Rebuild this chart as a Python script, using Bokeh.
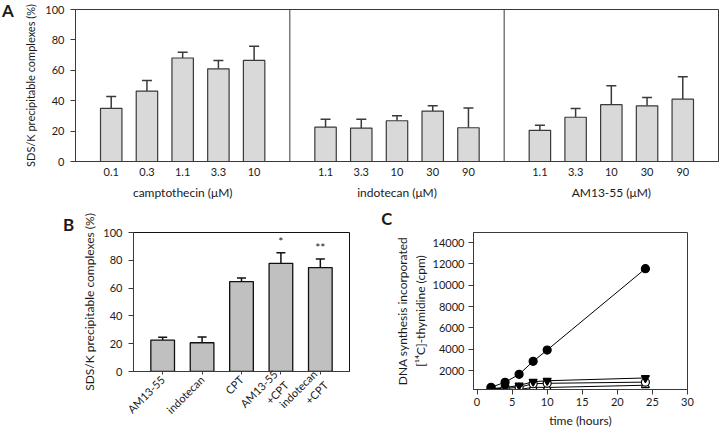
import math
from bokeh.plotting import figure
from bokeh.layouts import column, row
from bokeh.models import (ColumnDataSource, Whisker, TeeHead, FixedTicker,
                          LinearAxis, Span, Div, Range1d)
from bokeh.core.properties import value
from bokeh.embed import file_html
from bokeh.resources import INLINE

# ---------------- data ----------------
# Panel A
a_groups = ["camptothecin (μM)", "indotecan (μM)", "AM13-55 (μM)"]
a_conc = [["0.1", "0.3", "1.1", "3.3", "10"],
          ["1.1", "3.3", "10", "30", "90"],
          ["1.1", "3.3", "10", "30", "90"]]
a_mean = [[35.0, 46.3, 68.1, 61.0, 66.5],
          [22.6, 22.0, 26.8, 33.2, 22.2],
          [20.5, 29.1, 37.4, 36.6, 41.0]]
a_sd = [[7.7, 7.0, 3.7, 5.5, 9.3],
        [5.2, 5.8, 3.3, 3.5, 13.0],
        [3.3, 5.7, 12.4, 5.5, 14.7]]
a_yticks = [0, 20, 40, 60, 80, 100]

# Panel B
b_labels = ["AM13-55", "indotecan", "CPT", "AM13-55\n+CPT", "indotecan\n+CPT"]
b_mean = [22.6, 20.7, 64.7, 77.8, 74.8]
b_sd = [2.0, 4.1, 2.6, 7.6, 6.1]
b_sig = ["", "", "", "*", "**"]
b_yticks = [0, 20, 40, 60, 80, 100]

# Panel C
c_time = [2, 4, 6, 8, 10, 24]
c_ctrl = [450, 915, 1660, 2880, 3935, 11550]
c_ctrl_sd = [60, 80, 90, 110, 100, 250]
c_s2 = [330, 420, 620, 970, 1060, 1320]
c_s3 = [300, 350, 450, 780, 820, 930]
c_s4 = [250, 280, 230, 450, 430, 640]
c_xticks = [0, 5, 10, 15, 20, 25, 30]
c_yticks = [2000, 4000, 6000, 8000, 10000, 12000, 14000]

FONT = "Lato"
DARK = "#3a3a3a"
TXT = "#1a1a1a"


def style_axis(ax, size="11px"):
    ax.major_label_text_font = FONT
    ax.major_label_text_font_size = size
    ax.major_label_text_color = TXT
    ax.axis_label_text_font = FONT
    ax.axis_label_text_font_style = "normal"
    ax.axis_label_text_font_size = "12px"
    ax.axis_label_text_color = TXT
    ax.axis_line_color = DARK
    ax.major_tick_line_color = DARK
    ax.minor_tick_line_color = None
    ax.major_tick_in = 0
    ax.major_tick_out = 5


def base_fig(**kw):
    p = figure(output_backend="svg", toolbar_location=None, **kw)
    p.xgrid.visible = False
    p.ygrid.visible = False
    p.outline_line_color = DARK
    p.outline_line_width = 1
    p.background_fill_color = "white"
    p.border_fill_color = "white"
    return p


def letter(text, width, height, left, top):
    html = ('<div style="position:relative; left:%dpx; top:%dpx; '
            'font-family:Lato; font-weight:bold; font-size:17px; line-height:1; '
            'color:%s;">%s</div>' % (left, top, TXT, text))
    return Div(text=html, width=width, height=height, margin=(0, 0, 0, 0))


# ---------------- Panel A ----------------
GROUP = len(a_conc[0]) + 1
pa = base_fig(width=706, height=206,
              x_range=Range1d(0, GROUP * len(a_groups)), y_range=Range1d(0, 100),
              min_border_left=61, min_border_right=2, min_border_top=9,
              min_border_bottom=45)

ax_, amean_, aup_, overrides = [], [], [], {}
for g, grp in enumerate(a_groups):
    for i, c in enumerate(a_conc[g]):
        xv = g * GROUP + 1 + i
        ax_.append(xv)
        amean_.append(a_mean[g][i])
        aup_.append(a_mean[g][i] + a_sd[g][i])
        overrides[xv] = c
srcA = ColumnDataSource(dict(x=ax_, top=amean_, upper=aup_))
pa.vbar(x="x", top="top", width=0.6, bottom=0, source=srcA,
        fill_color="#d9d9d9", line_color=DARK, line_width=1.2)
pa.add_layout(Whisker(source=srcA, base="x", lower="top", upper="upper",
                      line_color=DARK, line_width=1.5,
                      upper_head=TeeHead(size=10, line_color=DARK, line_width=1.5),
                      lower_head=None))
for g in range(1, len(a_groups)):
    pa.add_layout(Span(location=g * GROUP, dimension="height",
                       line_color=DARK, line_width=1))

style_axis(pa.yaxis[0])
pa.yaxis.ticker = FixedTicker(ticks=a_yticks)
pa.yaxis.axis_label = "SDS/K precipitable complexes (%)"
pa.yaxis.axis_label_text_font_size = "11px"
pa.yaxis.major_label_standoff = 6
pa.yaxis.axis_label_standoff = 5

xa = pa.xaxis[0]
style_axis(xa)
xa.ticker = FixedTicker(ticks=ax_)
xa.major_label_overrides = overrides
xa.major_tick_out = 0
xa.major_tick_line_color = None
xa.major_label_standoff = 6

grp_centers = [g * GROUP + GROUP / 2 for g in range(len(a_groups))]
xa2 = LinearAxis(ticker=FixedTicker(ticks=grp_centers),
                 major_label_overrides={c: n for c, n in zip(grp_centers, a_groups)})
style_axis(xa2, size="12px")
xa2.axis_line_color = None
xa2.major_tick_line_color = None
xa2.major_tick_out = 0
xa2.major_label_standoff = 6
pa.add_layout(xa2, "below")

# ---------------- Panel B ----------------
pb = base_fig(frame_width=219, frame_height=155,
              x_range=Range1d(-0.74, len(b_labels) - 0.26), y_range=Range1d(0, 100),
              min_border_left=58, min_border_right=28, min_border_top=24,
              min_border_bottom=10)
bx = list(range(len(b_labels)))
srcB = ColumnDataSource(dict(x=bx, top=b_mean,
                             upper=[m + s for m, s in zip(b_mean, b_sd)],
                             sig=b_sig,
                             sy=[m + s + 3 for m, s in zip(b_mean, b_sd)]))
pb.vbar(x="x", top="top", width=0.6, bottom=0, source=srcB,
        fill_color="#c0c0c0", line_color="#111111", line_width=1.3)
pb.add_layout(Whisker(source=srcB, base="x", lower="top", upper="upper",
                      line_color="#111111", line_width=1.5,
                      upper_head=TeeHead(size=9, line_color="#111111", line_width=1.5),
                      lower_head=None))
pb.text(x="x", y="sy", text="sig", source=srcB, text_align="center",
        text_baseline="bottom", text_font=value(FONT), text_font_size="12px",
        text_color=TXT)
style_axis(pb.yaxis[0])
pb.yaxis.ticker = FixedTicker(ticks=b_yticks)
pb.yaxis.axis_label = "SDS/K precipitable complexes (%)"
pb.yaxis.major_label_standoff = 6
pb.yaxis.axis_label_standoff = 3
style_axis(pb.xaxis[0], size="11px")
pb.xaxis.ticker = FixedTicker(ticks=bx)
pb.xaxis.major_label_overrides = {i: l for i, l in enumerate(b_labels)}
pb.xaxis.major_label_orientation = math.pi / 4
pb.xaxis.major_tick_out = 3
pb.xaxis.major_label_standoff = 3
pb.outline_line_color = "#111111"

# ---------------- Panel C ----------------
pc = base_fig(frame_width=218, frame_height=157,
              x_range=Range1d(-0.5, 30), y_range=Range1d(240, 14940),
              min_border_left=76, min_border_right=32, min_border_top=26,
              min_border_bottom=10)
srcC = ColumnDataSource(dict(t=c_time, ctrl=c_ctrl,
                             lo=[v - s for v, s in zip(c_ctrl, c_ctrl_sd)],
                             hi=[v + s for v, s in zip(c_ctrl, c_ctrl_sd)],
                             s2=c_s2, s3=c_s3, s4=c_s4))
series = [("s4", "triangle", "white"), ("s3", "circle", "white"),
          ("s2", "inverted_triangle", "black"), ("ctrl", "circle", "black")]
for col, marker, fill in series:
    pc.line(x="t", y=col, source=srcC, line_color="black", line_width=1)
for col, marker, fill in series:
    pc.scatter(x="t", y=col, source=srcC, marker=marker, size=8,
               fill_color=fill, line_color="black", line_width=1.2)
pc.add_layout(Whisker(source=srcC, base="t", lower="lo", upper="hi",
                      line_color="black", line_width=1,
                      upper_head=TeeHead(size=5, line_color="black"),
                      lower_head=TeeHead(size=5, line_color="black")))
style_axis(pc.xaxis[0])
pc.xaxis.ticker = FixedTicker(ticks=c_xticks)
pc.xaxis.axis_label = "time (hours)"
pc.xaxis.major_label_standoff = 3
pc.xaxis.axis_label_standoff = 4
style_axis(pc.yaxis[0])
pc.yaxis.ticker = FixedTicker(ticks=c_yticks)
pc.yaxis.axis_label = "DNA synthesis incorporated\n[¹⁴C]-thymidine (cpm)"
pc.yaxis.major_label_standoff = 4
pc.yaxis.axis_label_standoff = 2

divA = letter("A", 14, 206, 2, 2)
divB = letter("B", 75, 226, 63, 10)
divC = letter("C", 14, 226, 4, 4)

row2 = row(divB, pb, divC, pc, height=226, width=720,
           styles={"overflow": "hidden"})
layout = column(row(divA, pa), row2)
open("out.html", "w").write(file_html(layout, INLINE))
